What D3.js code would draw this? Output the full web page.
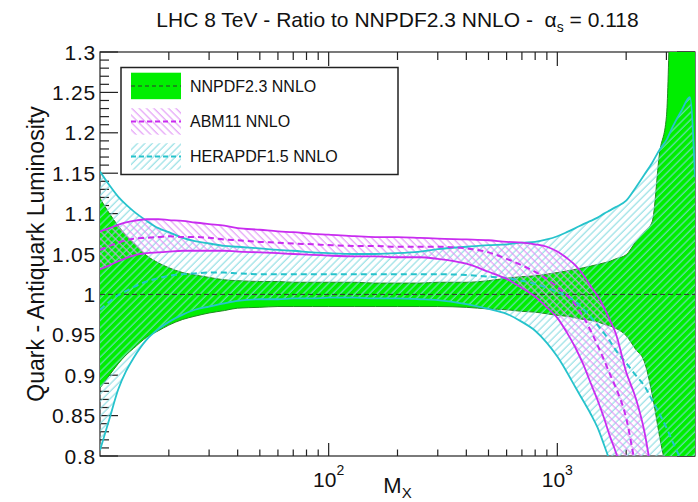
<!DOCTYPE html>
<html><head><meta charset="utf-8">
<script src="https://cdn.jsdelivr.net/npm/d3@7"></script>
<style>
html,body{margin:0;padding:0;background:#fff;}
svg{display:block;font-family:"Liberation Sans",Arial,Helvetica,sans-serif;}
</style></head><body>
<svg id="chart" width="698" height="502"></svg>
<script>
// ---- data ----
const massGeV = [10, 11, 12, 13, 14, 16, 18, 20, 23, 26, 30, 35, 40, 50, 60, 70, 85, 100, 130, 160, 200, 250, 300, 400, 500, 600, 700, 800, 900, 1000, 1100, 1200, 1300, 1400, 1500, 1600, 1700, 1800, 2000, 2200, 2400, 2600, 2800, 3000, 3200, 3500, 3800, 4000];

const nnpdfUpper = [1.119, 1.100, 1.085, 1.073, 1.064, 1.048, 1.039, 1.033, 1.027, 1.024, 1.021, 1.018, 1.017, 1.016, 1.016, 1.015, 1.015, 1.015, 1.015, 1.014, 1.014, 1.014, 1.015, 1.015, 1.017, 1.020, 1.022, 1.023, 1.025, 1.027, 1.029, 1.031, 1.033, 1.035, 1.037, 1.039, 1.041, 1.044, 1.049, 1.065, 1.077, 1.090, 1.175, 1.220, 1.500, 1.800, 1.900, 1.950];
const nnpdfLower = [0.884, 0.900, 0.914, 0.925, 0.933, 0.947, 0.955, 0.962, 0.969, 0.973, 0.977, 0.980, 0.983, 0.984, 0.985, 0.985, 0.985, 0.985, 0.985, 0.985, 0.985, 0.985, 0.985, 0.984, 0.982, 0.981, 0.979, 0.978, 0.976, 0.974, 0.973, 0.971, 0.969, 0.968, 0.966, 0.963, 0.961, 0.958, 0.949, 0.932, 0.917, 0.876, 0.824, 0.777, 0.700, 0.600, 0.500, 0.450];
const nnpdfCentral = [1.0, 1.0];
const nnpdfCentralMass = [10, 4000];

const abmUpper = [1.078, 1.082, 1.086, 1.089, 1.091, 1.093, 1.093, 1.092, 1.091, 1.089, 1.087, 1.085, 1.082, 1.080, 1.078, 1.077, 1.075, 1.074, 1.072, 1.071, 1.071, 1.070, 1.069, 1.068, 1.067, 1.065, 1.064, 1.062, 1.059, 1.053, 1.045, 1.036, 1.024, 1.010, 0.998, 0.984, 0.968, 0.952, 0.904, 0.872, 0.831, 0.775, 0.730, 0.690, 0.650, 0.590, 0.540, 0.510];
const abmCentral = [1.055, 1.060, 1.064, 1.067, 1.069, 1.070, 1.071, 1.072, 1.071, 1.071, 1.070, 1.068, 1.067, 1.065, 1.064, 1.063, 1.062, 1.061, 1.060, 1.060, 1.059, 1.059, 1.059, 1.057, 1.052, 1.044, 1.036, 1.028, 1.019, 1.009, 0.999, 0.987, 0.972, 0.955, 0.937, 0.919, 0.901, 0.885, 0.847, 0.787, 0.740, 0.700, 0.660, 0.620, 0.580, 0.530, 0.480, 0.460];
const abmLower = [1.031, 1.036, 1.041, 1.045, 1.048, 1.051, 1.052, 1.053, 1.054, 1.054, 1.054, 1.054, 1.053, 1.052, 1.051, 1.050, 1.049, 1.048, 1.047, 1.047, 1.046, 1.046, 1.044, 1.038, 1.028, 1.019, 1.008, 0.997, 0.984, 0.971, 0.953, 0.934, 0.913, 0.890, 0.869, 0.847, 0.824, 0.805, 0.760, 0.720, 0.680, 0.640, 0.600, 0.560, 0.520, 0.470, 0.420, 0.400];

const heraUpper = [1.152, 1.135, 1.121, 1.111, 1.103, 1.091, 1.082, 1.077, 1.070, 1.066, 1.063, 1.060, 1.059, 1.057, 1.055, 1.054, 1.052, 1.051, 1.050, 1.050, 1.051, 1.053, 1.056, 1.059, 1.061, 1.062, 1.064, 1.065, 1.068, 1.072, 1.077, 1.082, 1.087, 1.091, 1.095, 1.100, 1.104, 1.108, 1.116, 1.132, 1.148, 1.163, 1.179, 1.191, 1.208, 1.228, 1.244, 1.145];
const heraCentral = [0.981, 0.991, 0.999, 1.004, 1.009, 1.016, 1.020, 1.023, 1.025, 1.026, 1.027, 1.027, 1.026, 1.025, 1.025, 1.025, 1.025, 1.025, 1.025, 1.025, 1.025, 1.025, 1.025, 1.024, 1.022, 1.020, 1.017, 1.013, 1.008, 1.003, 0.998, 0.991, 0.982, 0.972, 0.962, 0.952, 0.942, 0.931, 0.915, 0.900, 0.887, 0.869, 0.852, 0.835, 0.817, 0.793, 0.770, 0.760];
const heraLower = [0.807, 0.846, 0.882, 0.905, 0.921, 0.944, 0.957, 0.966, 0.975, 0.981, 0.985, 0.989, 0.992, 0.994, 0.994, 0.995, 0.995, 0.996, 0.996, 0.995, 0.995, 0.994, 0.993, 0.988, 0.982, 0.976, 0.966, 0.955, 0.940, 0.923, 0.904, 0.885, 0.868, 0.852, 0.835, 0.814, 0.793, 0.773, 0.730, 0.690, 0.650, 0.600, 0.560, 0.520, 0.480, 0.420, 0.360, 0.330];

const legendLabels = ["NNPDF2.3 NNLO", "ABM11 NNLO", "HERAPDF1.5 NNLO"];
const yTickLabels = ["0.8", "0.85", "0.9", "0.95", "1", "1.05", "1.1", "1.15", "1.2", "1.25", "1.3"];
const yTickValues = [0.8, 0.85, 0.9, 0.95, 1.0, 1.05, 1.1, 1.15, 1.2, 1.25, 1.3];
const xMajorTicks = [100, 1000];
const xMajorExponents = ["2", "3"];
const xMinorTicks = [20, 30, 40, 50, 60, 70, 80, 90, 200, 300, 400, 500, 600, 700, 800, 900, 2000, 3000];
const titleMain = "LHC 8 TeV - Ratio to NNPDF2.3 NNLO -  \u03b1";
const titleSub = "s";
const titleEnd = " = 0.118";
const yTitle = "Quark - Antiquark Luminosity";
const xTitle = "M";
const xTitleSub = "X";

// ---- layout ----
const L = 100, R = 695, T = 52, B = 456;
const col = {green: "#00ee00", greenEdge: "#1f8a1f", cyan: "#26c3cc", magenta: "#c92cf0",
  cyanHatch: "#7fd9df", magHatch: "#de8cf5", axis: "#222"};

const svg = d3.select("#chart");
const x = d3.scaleLog().domain([10, 4000]).range([L, R]);
const y = d3.scaleLinear().domain([0.8, 1.3]).range([B, T]);

const defs = svg.append("defs");
defs.append("clipPath").attr("id", "plotClip").append("rect")
  .attr("x", L).attr("y", T).attr("width", R - L).attr("height", B - T);
function hatch(id, angle, color) {
  const p = defs.append("pattern").attr("id", id).attr("patternUnits", "userSpaceOnUse")
    .attr("width", 5.2).attr("height", 10).attr("patternTransform", `rotate(${angle})`);
  p.append("line").attr("x1", 1).attr("y1", -1).attr("x2", 1).attr("y2", 11)
    .attr("stroke", color).attr("stroke-width", 1);
}
hatch("hatchCyan", 45, col.cyanHatch);
hatch("hatchMag", -45, col.magHatch);

// ---- axes / frame ----
const ax = svg.append("g").attr("stroke", col.axis).attr("stroke-width", 1.2).attr("fill", "none");
ax.append("rect").attr("x", L).attr("y", T).attr("width", R - L).attr("height", B - T);
const yMinor = d3.range(0, 51).map(i => 0.8 + i * 0.01);
yMinor.forEach((v, i) => {
  const len = (i % 5 === 0) ? 18 : 9;
  ax.append("line").attr("x1", L).attr("x2", L + len).attr("y1", y(v)).attr("y2", y(v));
  ax.append("line").attr("x1", R).attr("x2", R - len).attr("y1", y(v)).attr("y2", y(v));
});
xMinorTicks.forEach(m => {
  ax.append("line").attr("x1", x(m)).attr("x2", x(m)).attr("y1", B).attr("y2", B - 6.5);
  ax.append("line").attr("x1", x(m)).attr("x2", x(m)).attr("y1", T).attr("y2", T + 8);
});
xMajorTicks.forEach(m => {
  ax.append("line").attr("x1", x(m)).attr("x2", x(m)).attr("y1", B).attr("y2", B - 13);
  ax.append("line").attr("x1", x(m)).attr("x2", x(m)).attr("y1", T).attr("y2", T + 14);
});

// ---- bands ----
const pts = (up, lo) => massGeV.map((m, i) => ({m, up: up[i], lo: lo[i]}));
const area = d3.area().x(d => x(d.m)).y0(d => y(d.lo)).y1(d => y(d.up)).curve(d3.curveMonotoneX);
const lineUp = d3.line().x(d => x(d.m)).y(d => y(d.up)).curve(d3.curveMonotoneX);
const lineLo = d3.line().x(d => x(d.m)).y(d => y(d.lo)).curve(d3.curveMonotoneX);

const plot = svg.append("g").attr("clip-path", "url(#plotClip)");
const nn = pts(nnpdfUpper, nnpdfLower);
const ab = pts(abmUpper, abmLower);
const he = pts(heraUpper, heraLower);
const abC = pts(abmCentral, abmCentral);
const heC = pts(heraCentral, heraCentral);

plot.append("path").datum(nn).attr("d", area).attr("fill", col.green);
plot.append("path").datum(nn).attr("d", lineUp).attr("fill", "none").attr("stroke", col.greenEdge).attr("stroke-width", 1);
plot.append("path").datum(nn).attr("d", lineLo).attr("fill", "none").attr("stroke", col.greenEdge).attr("stroke-width", 1);

plot.append("path").datum(he).attr("d", area).attr("fill", "url(#hatchCyan)");
plot.append("path").datum(ab).attr("d", area).attr("fill", "url(#hatchMag)");

// central NNPDF line
plot.append("line").attr("x1", x(nnpdfCentralMass[0])).attr("x2", x(nnpdfCentralMass[1]))
  .attr("y1", y(nnpdfCentral[0])).attr("y2", y(nnpdfCentral[1]))
  .attr("stroke", "#333").attr("stroke-width", 1).attr("stroke-dasharray", "5,3");

function drawLine(data, gen, color, dash) {
  plot.append("path").datum(data).attr("d", gen).attr("fill", "none")
    .attr("stroke", color).attr("stroke-width", dash ? 2 : 1.8)
    .attr("stroke-dasharray", dash ? "6,4" : null);
}
drawLine(he, lineUp, col.cyan, false);
drawLine(he, lineLo, col.cyan, false);
drawLine(heC, lineUp, col.cyan, true);
drawLine(ab, lineUp, col.magenta, false);
drawLine(ab, lineLo, col.magenta, false);
drawLine(abC, lineUp, col.magenta, true);

// ---- tick labels ----
const txt = svg.append("g").attr("fill", "#111");
yTickLabels.forEach((lab, i) => {
  txt.append("text").attr("x", 96).attr("y", y(yTickValues[i]) + 7.5)
    .attr("text-anchor", "end").attr("font-size", 21).attr("letter-spacing", "0.8px").text(lab);
});
xMajorTicks.forEach((m, i) => {
  const t = txt.append("text").attr("x", x(m)).attr("y", 487).attr("text-anchor", "middle").attr("font-size", 21);
  t.append("tspan").text("10");
  t.append("tspan").attr("dy", -12).attr("font-size", 14).text(xMajorExponents[i]);
});
const xt = txt.append("text").attr("x", (L + R) / 2).attr("y", 493).attr("text-anchor", "middle").attr("font-size", 22);
xt.append("tspan").text(xTitle);
xt.append("tspan").attr("dy", 5).attr("font-size", 15).text(xTitleSub);

txt.append("text").attr("transform", `translate(44,${(T + B) / 2}) rotate(-90)`)
  .attr("text-anchor", "middle").attr("font-size", 23).text(yTitle);

const tt = txt.append("text").attr("x", (L + R) / 2).attr("y", 27).attr("text-anchor", "middle")
  .attr("font-size", 21).style("white-space", "pre");
tt.append("tspan").text(titleMain);
tt.append("tspan").attr("dy", 5).attr("font-size", 14).text(titleSub);
tt.append("tspan").attr("dy", -5).attr("font-size", 21).text(titleEnd);

// ---- legend ----
const lg = svg.append("g");
lg.append("rect").attr("x", 121).attr("y", 67.5).attr("width", 277).attr("height", 107)
  .attr("fill", "#fff").attr("stroke", "#222").attr("stroke-width", 1.5);
const rowsY = [86, 121.5, 156.5];
const swFill = [col.green, "url(#hatchMag)", "url(#hatchCyan)"];
const swLine = ["#333", col.magenta, col.cyan];
legendLabels.forEach((lab, i) => {
  const cy = rowsY[i];
  lg.append("rect").attr("x", 131).attr("y", cy - 13.3).attr("width", 50).attr("height", 26.5).attr("fill", swFill[i]);
  lg.append("line").attr("x1", 131).attr("x2", 181).attr("y1", cy).attr("y2", cy)
    .attr("stroke", swLine[i]).attr("stroke-width", i === 0 ? 1 : 1.8).attr("stroke-dasharray", i === 0 ? "4,3" : "5,3");
  lg.append("text").attr("x", 190).attr("y", cy + 5.5).attr("font-size", 16).attr("fill", "#111").text(lab);
});
</script>
</body></html>
